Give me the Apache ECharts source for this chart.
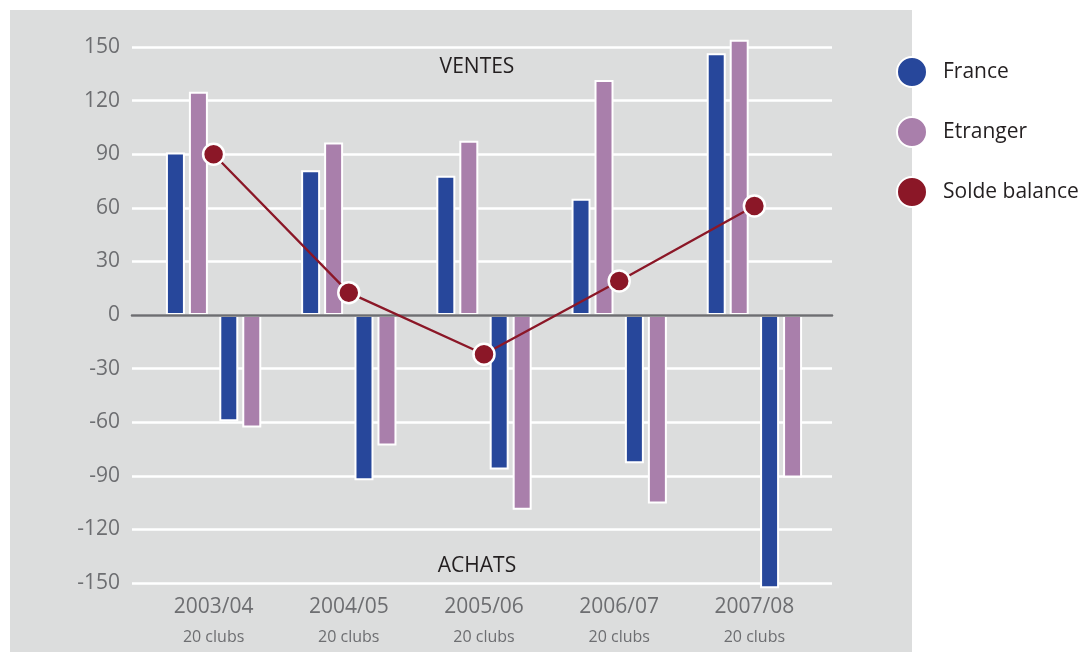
<!DOCTYPE html>
<html>
<head>
<meta charset="utf-8">
<title>Ventes / Achats</title>
<script src="https://cdn.jsdelivr.net/npm/echarts@6/dist/echarts.min.js"></script>
<style>
  html, body { margin: 0; padding: 0; background: #fff; }
  #chart { width: 1085px; height: 652px; }
</style>
</head>
<body>
<div id="chart"></div>
<script>
var categories = ["2003/04", "2004/05", "2005/06", "2006/07", "2007/08"];
var subLabel = "20 clubs";
var franceVentes = [91, 81, 78, 65, 146.5];
var etrangerVentes = [125, 96.5, 97.5, 131.5, 154];
var franceAchats = [-59.5, -92.5, -86.5, -83, -153];
var etrangerAchats = [-63, -73, -109, -105.5, -91];
var solde = [90, 12.5, -22, 19, 61];
var yTicks = { min: -150, max: 150, step: 30 };

var FONT = "Open Sans";
var BLUE = "#27479b";
var PURPLE = "#a97fab";
var RED = "#8b1727";
var GREY_TXT = "#6d6e71";

var myChart = echarts.init(document.getElementById("chart"));

function barSerie(name, data, color) {
  return {
    name: name,
    type: "bar",
    xAxisIndex: 1,
    yAxisIndex: 1,
    data: data,
    barWidth: 19,
    barGap: "21%",
    clip: false,
    z: 2,
    itemStyle: {
      color: color,
      borderColor: "#fff",
      borderWidth: 2,
    },
  };
}

var option = {
  animation: false,
  backgroundColor: "#fff",
  textStyle: { fontFamily: FONT },
  graphic: {
    elements: [
      {
        type: "rect",
        z: -10,
        shape: { x: 10, y: 10, width: 902, height: 650 },
        style: { fill: "#dcdddd" },
      },
      {
        type: "text",
        z: 10,
        x: 477,
        y: 67,
        style: {
          text: "VENTES",
          fill: "#231f20",
          font: "21px '" + FONT + "'",
          align: "center",
          verticalAlign: "middle",
        },
      },
      {
        type: "text",
        z: 10,
        x: 477,
        y: 566,
        style: {
          text: "ACHATS",
          fill: "#231f20",
          font: "21px '" + FONT + "'",
          align: "center",
          verticalAlign: "middle",
        },
      },
    ],
  },
  legend: {
    data: ["France", "Etranger", "Solde balance"],
    orient: "vertical",
    left: 891,
    top: 51,
    icon: "circle",
    itemWidth: 30,
    itemHeight: 30,
    itemGap: 28,
    itemStyle: { borderColor: "#fff", borderWidth: 2 },
    textStyle: {
      fontFamily: FONT,
      fontSize: 21,
      color: "#231f20",
      padding: [0, 0, 0, 11],
    },
  },
  grid: [
    // grille de fond (lignes blanches + axe des y)
    { left: 132, right: 253, top: 47, bottom: 69 },
    // grille des barres
    { left: 146, right: 263, top: 47, bottom: 69 },
  ],
  xAxis: [
    {
      gridIndex: 0,
      type: "value",
      min: 0,
      max: 1,
      z: 3,
      axisLine: {
        show: true,
        onZero: true,
        lineStyle: { color: GREY_TXT, width: 2.5 },
      },
      axisTick: { show: false },
      axisLabel: { show: false },
      splitLine: { show: false },
    },
    {
      gridIndex: 1,
      type: "category",
      data: categories,
      axisLine: { show: false, onZero: false },
      axisTick: { show: false },
      splitLine: { show: false },
      axisLabel: {
        interval: 0,
        margin: 10,
        formatter: function (value) {
          return "{a|" + value + "}\n{b|" + subLabel + "}";
        },
        rich: {
          a: { fontFamily: FONT, fontSize: 21, lineHeight: 28, color: GREY_TXT },
          b: { fontFamily: FONT, fontSize: 16, lineHeight: 32, color: GREY_TXT },
        },
      },
    },
  ],
  yAxis: [
    {
      gridIndex: 0,
      type: "value",
      min: yTicks.min,
      max: yTicks.max,
      interval: yTicks.step,
      axisLine: { show: false },
      axisTick: { show: false },
      axisLabel: {
        margin: 12,
        color: GREY_TXT,
        fontFamily: FONT,
        fontSize: 21,
      },
      splitLine: {
        lineStyle: { color: "#fff", width: 2.5 },
      },
    },
    {
      gridIndex: 1,
      type: "value",
      min: yTicks.min,
      max: yTicks.max,
      interval: yTicks.step,
      show: false,
      splitLine: { show: false },
    },
  ],
  series: [
    barSerie("France", franceVentes, BLUE),
    barSerie("Etranger", etrangerVentes, PURPLE),
    {
      // espace entre ventes et achats
      name: "spacer",
      type: "bar",
      xAxisIndex: 1,
      yAxisIndex: 1,
      barWidth: 6.1,
      barGap: "21%",
      data: categories.map(function () { return "-"; }),
      silent: true,
    },
    barSerie("France", franceAchats, BLUE),
    barSerie("Etranger", etrangerAchats, PURPLE),
    {
      name: "Solde balance",
      type: "line",
      xAxisIndex: 1,
      yAxisIndex: 1,
      data: solde,
      z: 4,
      symbol: "circle",
      symbolSize: 21,
      lineStyle: { color: RED, width: 2.3 },
      itemStyle: { color: RED, borderColor: "#fff", borderWidth: 2.5 },
    },
  ],
};

myChart.setOption(option, true);
window.addEventListener("resize", function () {
  myChart.resize();
});
</script>
</body>
</html>
